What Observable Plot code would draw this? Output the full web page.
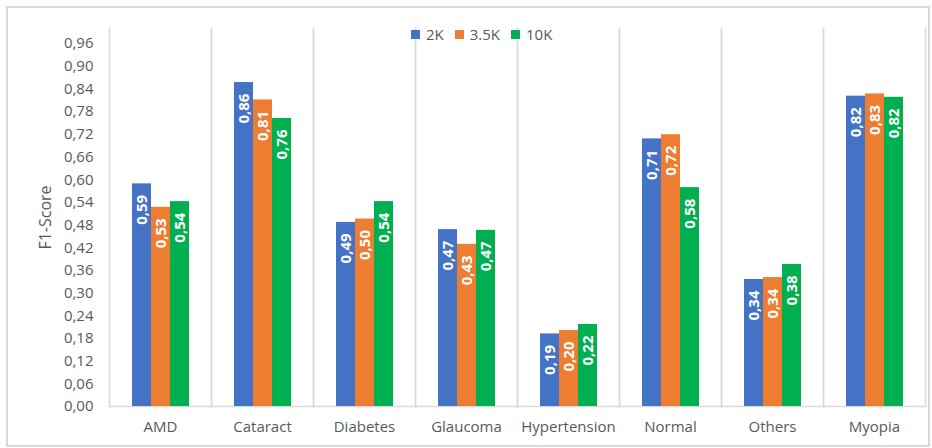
<!DOCTYPE html>
<html><head><meta charset="utf-8">
<script src="https://cdn.jsdelivr.net/npm/d3@7"></script>
<script src="https://cdn.jsdelivr.net/npm/@observablehq/plot@0.6"></script>
<style>
body{margin:0;background:#fff;}
#wrap{position:relative;width:932px;height:448px;font-family:"Open Sans",sans-serif;overflow:hidden;}
#frame{position:absolute;left:6px;top:6px;width:920px;height:437px;border:2px solid #d9d9d9;pointer-events:none;}
#legend{position:absolute;top:24px;left:411px;width:200px;display:flex;align-items:center;font-size:15px;color:#595959;line-height:20px;z-index:2;}
#legend .item{display:flex;align-items:center;margin-right:11px;flex:none;}
#legend .sw{display:block;flex:none;width:9px;min-width:9px;height:9px;margin-right:6px;}
</style></head><body><div id="wrap"><div id="frame"></div><div id="legend"></div></div>
<script>
const categories = ["AMD","Cataract","Diabetes","Glaucoma","Hypertension","Normal","Others","Myopia"];
const series = ["2K","3.5K","10K"];
const values2K  = [0.589,0.857,0.487,0.468,0.192,0.708,0.336,0.821];
const values35K = [0.527,0.811,0.496,0.429,0.201,0.719,0.341,0.827];
const values10K = [0.542,0.762,0.542,0.466,0.217,0.579,0.376,0.818];
const yTicks = [0,0.06,0.12,0.18,0.24,0.30,0.36,0.42,0.48,0.54,0.60,0.66,0.72,0.78,0.84,0.90,0.96];
const colors = ["#4472C4","#ED7D31","#00B050"];

const seriesValues = [values2K, values35K, values10K];
const data = categories.flatMap((c,i)=>series.map((s,j)=>({c, s, v: seriesValues[j][i]})));
const fmt = v => v.toFixed(2).replace(".", ",");

const chart = Plot.plot({
  width: 932, height: 448,
  marginLeft: 108, marginRight: 6, marginTop: 28, marginBottom: 42,
  style: {fontFamily: "Open Sans", fontSize: "15px", color: "#595959", background: "transparent"},
  fx: {domain: categories, padding: 0, label: null},
  x: {domain: series, paddingInner: 0, paddingOuter: 1.06, axis: null},
  y: {domain: [0, 1]},
  color: {domain: series, range: colors},
  marks: [
    Plot.frame({anchor: "left", stroke: "#d9d9d9", strokeWidth: 1.5}),
    Plot.frame({anchor: "right", stroke: "#d9d9d9", strokeWidth: 1.5}),
    Plot.ruleY([0], {stroke: "#d9d9d9", strokeWidth: 1.5}),
    Plot.axisY({ticks: yTicks, tickSize: 0, tickPadding: 16, tickFormat: fmt, label: null, fill: "#595959"}),
    Plot.axisY({ticks: [], label: "F1-Score", labelAnchor: "center", labelArrow: "none",
      labelOffset: 70, fontSize: 16, fill: "#595959"}),
    Plot.axisFx({anchor: "bottom", tickSize: 0, tickPadding: 15, label: null, fill: "#595959"}),
    Plot.barY(data, {fx: "c", x: "s", y: "v", fill: "s"}),
    Plot.text(data, {fx: "c", x: "s", y: "v", text: d => fmt(d.v), rotate: -90, textAnchor: "end",
      dy: 11, fill: "white", fontWeight: "bold", fontSize: 15})
  ]
});
document.getElementById("wrap").appendChild(chart);
chart.style.position = "absolute"; chart.style.left = "0"; chart.style.top = "0";
const legend = document.getElementById("legend");
series.forEach((s, i) => {
  const item = document.createElement("div"); item.className = "item";
  const sw = document.createElement("div"); sw.className = "sw"; sw.style.background = colors[i];
  const t = document.createElement("span"); t.textContent = s;
  item.appendChild(sw); item.appendChild(t); legend.appendChild(item);
});
</script></body></html>
